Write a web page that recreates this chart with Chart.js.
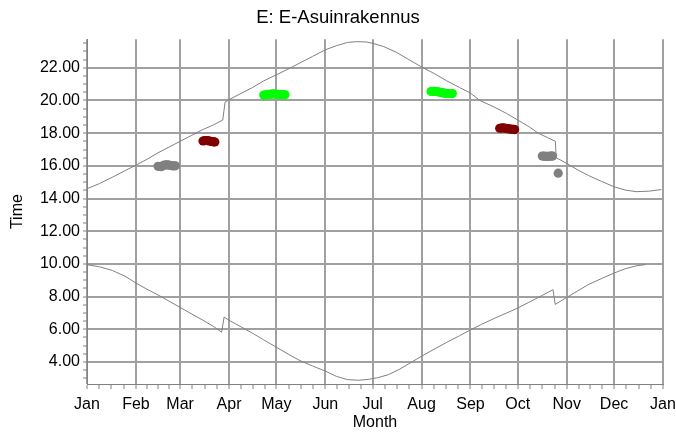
<!DOCTYPE html>
<html>
<head>
<meta charset="utf-8">
<script src="https://cdn.jsdelivr.net/npm/chart.js@4"></script>
<style>
  html, body { margin: 0; padding: 0; background: #fff; }
  #wrap { width: 676px; height: 432px; }
</style>
</head>
<body>
<div id="wrap"><canvas id="chart" width="676" height="432"></canvas></div>
<script>
// x = day of year, y = hour of day
const monthStarts = [0, 31, 59, 90, 120, 151, 181, 212, 243, 273, 304, 334, 365];
const monthNames = ['Jan', 'Feb', 'Mar', 'Apr', 'May', 'Jun', 'Jul', 'Aug', 'Sep', 'Oct', 'Nov', 'Dec', 'Jan'];
const yTickValues = [3, 3.5, 4, 4.5, 5, 5.5, 6, 6.5, 7, 7.5, 8, 8.5, 9, 9.5, 10, 10.5, 11, 11.5, 12, 12.5,
  13, 13.5, 14, 14.5, 15, 15.5, 16, 16.5, 17, 17.5, 18, 18.5, 19, 19.5, 20, 20.5, 21, 21.5, 22, 22.5, 23, 23.5];

// upper curve (sunset)
const sunsetDays = [0, 8, 16, 24, 31, 38, 45, 52, 59, 66, 73, 80, 86, 87.5, 90, 97, 105, 112, 120, 128,
  135, 143, 151, 158, 165, 171, 177, 181, 188, 196, 204, 212, 220, 228, 236, 243, 249, 258, 266, 273,
  280, 286, 292, 296.8, 297.3, 304, 311, 318, 326, 334, 341, 348, 356, 364];
const sunsetTimes = [14.6, 14.92, 15.3, 15.7, 16.04, 16.4, 16.8, 17.15, 17.5, 17.85, 18.2, 18.5, 18.8, 19.9, 20.05, 20.4, 20.8, 21.2, 21.57, 21.95,
  22.3, 22.7, 23.1, 23.35, 23.55, 23.6, 23.58, 23.5, 23.3, 22.95, 22.5, 22.05, 21.65, 21.2, 20.8, 20.45, 20.0, 19.6, 19.2, 18.8,
  18.4, 18.0, 17.72, 17.5, 16.5, 16.15, 15.75, 15.4, 15.05, 14.72, 14.52, 14.42, 14.45, 14.55];

// lower curve (sunrise)
const sunriseDays = [0, 8, 16, 24, 31, 38, 45, 52, 59, 66, 73, 80, 85.3, 86.9, 90, 97, 105, 112, 120, 128,
  135, 143, 151, 158, 165, 172, 178, 184, 191, 198, 205, 212, 220, 228, 236, 243, 250, 258, 266, 273,
  280, 287, 295.3, 296.7, 304, 311, 318, 326, 334, 341, 348, 354];
const sunriseTimes = [9.95, 9.82, 9.6, 9.25, 8.83, 8.45, 8.1, 7.72, 7.34, 6.95, 6.58, 6.18, 5.82, 6.75, 6.55, 6.18, 5.75, 5.35, 4.9, 4.45,
  4.08, 3.75, 3.44, 3.12, 2.92, 2.88, 2.93, 3.03, 3.22, 3.55, 3.95, 4.35, 4.78, 5.2, 5.6, 5.96, 6.3, 6.66, 7.0, 7.3,
  7.65, 8.0, 8.42, 7.52, 7.95, 8.35, 8.75, 9.1, 9.44, 9.7, 9.88, 9.96];

// marks
const grayDays = [45, 46, 47, 48, 49, 50, 51, 52, 53, 54, 55, 56, 288.5, 289.5, 290.5, 291.5, 292.5, 293.5, 294.5, 295, 298.6];
const grayTimes = [15.97, 15.96, 15.95, 16.0, 16.05, 16.06, 16.06, 16.04, 16.02, 16.0, 16.0, 16.0, 16.6, 16.6, 16.58, 16.58, 16.58, 16.6, 16.6, 16.6, 15.55];
const redDays = [73.5, 74.5, 75.5, 76.5, 77.5, 78.5, 79.5, 80.5, 81, 261.5, 262.5, 263.5, 264.5, 265.5, 266.5, 267.5, 268.5, 269.5, 270.5, 271];
const redTimes = [17.52, 17.54, 17.55, 17.54, 17.52, 17.5, 17.48, 17.47, 17.46, 18.3, 18.31, 18.32, 18.31, 18.3, 18.28, 18.26, 18.25, 18.24, 18.23, 18.22];
const greenDays = [112, 113, 114, 115, 116, 117, 118, 119, 120, 121, 122, 123, 124, 125, 125.5,
  218, 219, 220, 221, 222, 223, 224, 225, 226, 227, 228, 229, 230, 231, 231.5];
const greenTimes = [20.33, 20.34, 20.35, 20.37, 20.38, 20.39, 20.4, 20.39, 20.38, 20.37, 20.36, 20.36, 20.36, 20.35, 20.35,
  20.55, 20.56, 20.56, 20.55, 20.54, 20.52, 20.5, 20.48, 20.46, 20.44, 20.42, 20.42, 20.42, 20.42, 20.42];

const xTickDays = [];
for (let m = 0; m < 12; m++) {
  const a = monthStarts[m], b = monthStarts[m + 1];
  for (let q = 0; q < 4; q++) xTickDays.push(a + (b - a) * q / 4);
}
xTickDays.push(365);

const pts = (xs, ys) => xs.map((x, i) => ({ x: x, y: ys[i] }));
const fam = "'Liberation Sans', Arial, sans-serif";
const isMonth = v => monthStarts.indexOf(v) >= 0;

function marks(xs, ys, color) {
  return {
    data: pts(xs, ys), showLine: false,
    pointRadius: 4.6, pointBorderWidth: 0,
    pointBackgroundColor: color, pointBorderColor: color
  };
}

new Chart(document.getElementById('chart'), {
  type: 'scatter',
  data: {
    datasets: [
      { data: pts(sunsetDays, sunsetTimes), showLine: true, borderColor: '#808080', borderWidth: 1, pointRadius: 0, tension: 0 },
      { data: pts(sunriseDays, sunriseTimes), showLine: true, borderColor: '#808080', borderWidth: 1, pointRadius: 0, tension: 0 },
      marks(grayDays, grayTimes, '#808080'),
      marks(redDays, redTimes, '#800000'),
      marks(greenDays, greenTimes, '#00ff00')
    ]
  },
  options: {
    responsive: false,
    animation: false,
    layout: { padding: 0 },
    plugins: {
      legend: { display: false },
      tooltip: { enabled: false },
      title: {
        display: true, text: 'E: E-Asuinrakennus', color: '#000',
        font: { family: fam, size: 18.5, weight: 'normal' },
        padding: { top: 7, bottom: 10 }
      }
    },
    scales: {
      x: {
        type: 'linear', min: 0, max: 365,
        afterBuildTicks: s => { s.ticks = xTickDays.map(v => ({ value: v })); },
        afterFit: s => { s.height = 48; s.paddingLeft = 0; s.paddingRight = 13; },
        grid: {
          color: c => (c.tick && isMonth(c.tick.value)) ? '#a0a0a0' : 'rgba(0,0,0,0)',
          lineWidth: 2,
          tickColor: '#808080', tickWidth: 1, tickLength: 5
        },
        border: { color: '#808080', width: 1 },
        ticks: {
          autoSkip: false, maxRotation: 0, padding: 6, color: '#000',
          font: { family: fam, size: 16 },
          callback: v => { const i = monthStarts.indexOf(v); return i >= 0 ? monthNames[i] : ''; }
        },
        title: {
          display: true, text: 'Month', color: '#000',
          font: { family: fam, size: 16 },
          padding: { top: 0, bottom: 0 }
        }
      },
      y: {
        min: 2.65, max: 23.75,
        afterBuildTicks: s => { s.ticks = yTickValues.map(v => ({ value: v })); },
        afterFit: s => { s.width = 87; },
        grid: {
          color: c => (c.tick && c.tick.value % 2 === 0) ? '#a0a0a0' : 'rgba(0,0,0,0)',
          lineWidth: 2,
          tickColor: '#808080', tickWidth: 1, tickLength: 4
        },
        border: { color: '#808080', width: 1 },
        ticks: {
          autoSkip: false, padding: 3, color: '#000',
          font: { family: fam, size: 16 },
          callback: v => v % 2 === 0 ? v.toFixed(2) : ''
        },
        title: {
          display: true, text: 'Time', color: '#000',
          font: { family: fam, size: 16 },
          padding: { top: 8, bottom: 0 }
        }
      }
    }
  }
});
</script>
</body>
</html>
